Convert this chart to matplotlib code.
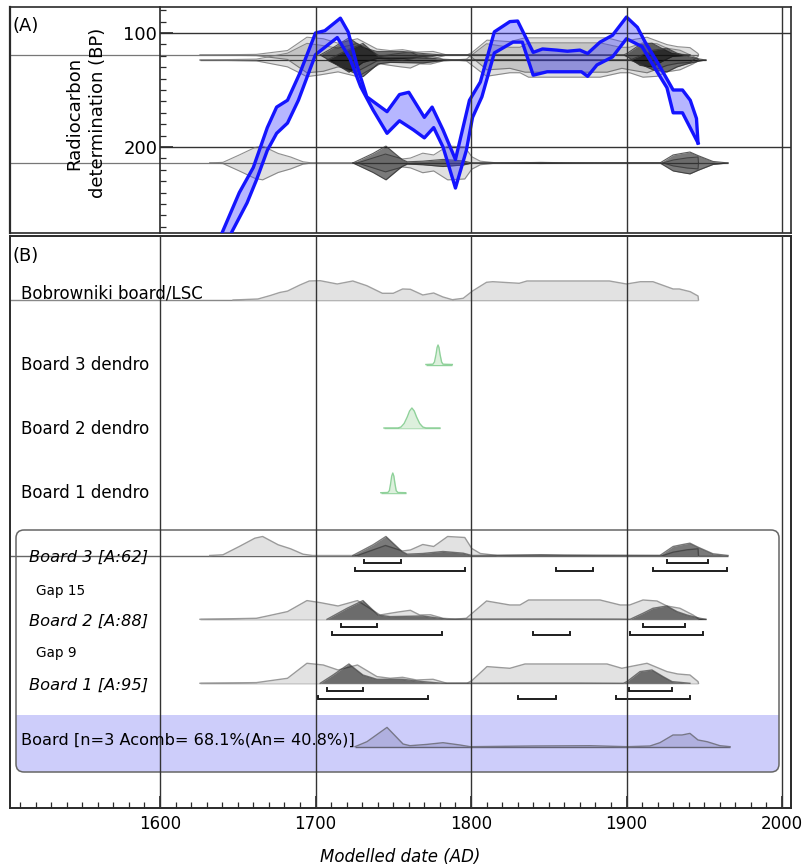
import numpy as np
import matplotlib
matplotlib.use("Agg")
import matplotlib.pyplot as plt
from matplotlib.patches import FancyBboxPatch, Rectangle
from matplotlib.transforms import Affine2D
from matplotlib.ticker import FixedLocator

# ------------------------------------------------------------------ data
# calibration curve band (upper = younger edge, lower = older edge), BP
cal_upper_year = [1637, 1640, 1651, 1660, 1669, 1675, 1682, 1690, 1700, 1706, 1716, 1721,
                  1727, 1733, 1746, 1754, 1760, 1770, 1775, 1782, 1790, 1799, 1806, 1815,
                  1825, 1830, 1840, 1846, 1855, 1862, 1870, 1875, 1883, 1891, 1900, 1907,
                  1912, 1920, 1930, 1936, 1941, 1945, 1946]
cal_upper_bp = [285, 275, 240, 218, 183, 165, 159, 135, 100, 98, 87, 99,
                130, 156, 169, 154, 152, 174, 165, 185, 211, 159, 143, 99,
                90, 89.5, 117, 114, 115, 116, 115, 118, 108, 102, 86, 95,
                108, 126, 150, 150, 159, 175, 196.5]
cal_lower_year = [1643, 1646, 1656, 1662, 1669, 1675, 1682, 1689, 1700, 1714, 1722, 1729,
                  1737, 1746, 1754, 1763, 1770, 1776, 1782, 1790, 1797, 1801, 1807, 1815,
                  1827, 1833, 1840, 1849, 1862, 1871, 1875, 1881, 1891, 1900, 1910, 1917,
                  1926, 1930, 1936, 1946]
cal_lower_bp = [285, 275, 249, 229, 203, 188, 179, 159, 119, 104, 122, 147,
                167.5, 188, 177, 185, 192, 183, 200, 236, 203, 174, 156, 117.5,
                108, 108, 137, 134, 134, 134, 138, 128, 121, 105, 112, 128,
                148, 170, 170, 196.5]

# radiocarbon determinations (BP) of the boards
board1_bp, board2_bp, board3_bp = 119.3, 123.7, 214.0

# relative probability distributions (arbitrary units)
lsc_year = [1647, 1663, 1671, 1677, 1682, 1690, 1696, 1703, 1714, 1724, 1733, 1743, 1750,
            1756, 1761, 1769, 1776, 1782, 1788, 1795, 1801, 1810, 1814, 1831, 1836, 1857,
            1889, 1900, 1909, 1917, 1930, 1934, 1941, 1946, 1946.3]
lsc_prob = [0, 1, 4.5, 7.5, 9, 15, 19, 19.3, 16, 19, 14.3, 6.7, 6.7,
            11, 10.7, 5, 7, 3, 0.3, 1.7, 9, 17.7, 18.3, 16.7, 19, 19,
            19, 16, 18.3, 18.3, 11, 11, 8.3, 4, 0]

d3_year = [1771, 1775.5, 1776.5, 1777.5, 1778.2, 1778.8, 1779.4, 1780.1, 1781.1, 1782, 1788]
d3_prob = [0, 0.3, 2.5, 10, 17, 19.5, 17, 10, 2.5, 0.3, 0]
d2_year = [1744, 1753, 1755, 1757, 1759, 1760.5, 1762, 1763.5, 1765, 1767, 1769, 1771, 1780]
d2_prob = [0, 0, 1, 4.5, 11, 17, 20, 17, 11, 4.5, 1, 0, 0]
d1_year = [1742, 1746.5, 1747.5, 1748.3, 1749, 1749.7, 1750.4, 1751.1, 1751.9, 1753, 1758]
d1_prob = [0, 0.2, 2, 9, 16.5, 19.7, 16.5, 9, 2, 0.2, 0]

b3_un_year = [1632, 1640.5, 1651, 1661, 1666, 1676, 1684, 1692, 1698, 1727, 1745, 1756,
              1761, 1769, 1776, 1785, 1796, 1800.5, 1806, 1817, 1830, 1845, 1860, 1923.5,
              1930, 1939, 1946, 1946.3]
b3_un_prob = [0, 0.7, 9, 17.3, 19, 10.7, 6.7, 1.3, 0, 0, 10, 4.5,
              5.5, 11, 9, 19, 18, 7, 2, 0, 0.3, 0.5, 0.2, 0,
              3.3, 5.7, 6.7, 0]
b3_mod_year = [1724, 1737, 1745.3, 1755.6, 1759, 1769, 1782, 1795, 1800.6, 1830, 1845, 1860,
               1880, 1921.5, 1930, 1936.3, 1940.8, 1946, 1955.6, 1965.3]
b3_mod_prob = [0, 10.7, 19, 4, 1.3, 2, 4, 2.3, 0, 0.3, 0.6, 0.3,
               0.1, 0, 9, 11, 12.3, 8.3, 1.7, 0]

b2_un_year = [1625.7, 1662, 1669, 1682, 1694.5, 1703, 1714.5, 1727, 1741.5, 1748, 1754, 1761,
              1767, 1774, 1782, 1790, 1797, 1810, 1825, 1831.5, 1837, 1883, 1896, 1902,
              1910.6, 1919.6, 1926, 1934.4, 1942.8, 1946, 1946.3]
b2_un_prob = [0, 1, 3.3, 7.7, 18.7, 16.7, 13.3, 18.7, 4.3, 6, 7.5, 9,
              4.3, 4.5, 1, 0.2, 1, 18.3, 14.3, 14.3, 19.3, 19.3, 14.3, 14.3,
              19.3, 18.3, 13.3, 11, 4.3, 1, 0]
b2_mod_year = [1707.4, 1720.3, 1730.5, 1740.2, 1748, 1769, 1780, 1784.6, 1800, 1850, 1895,
               1902.3, 1910.6, 1917, 1926, 1932.5, 1938.9, 1947.3, 1951.1]
b2_mod_prob = [0, 11, 18.7, 4.3, 2.7, 3.3, 1, 0, 0.2, 0.3, 0.2,
               0, 6, 11, 13.3, 7.7, 4.3, 1, 0]

b1_un_year = [1625.7, 1662, 1682, 1694.5, 1705, 1714.5, 1727, 1739.5, 1748, 1756, 1765,
              1775.6, 1784.6, 1797.4, 1800.6, 1810.3, 1825, 1834.7, 1887.5, 1897, 1902.3,
              1913.2, 1926, 1933, 1940.8, 1946, 1946.3]
b1_un_prob = [0, 0.7, 5, 20, 18.3, 13.3, 18.3, 6.7, 5, 6, 3.3,
              4, 0, 0, 2.7, 16.7, 15, 19.3, 19.3, 15, 16.7,
              20, 11.7, 9.3, 8.3, 1.7, 0]
b1_mod_year = [1703, 1711.3, 1721.5, 1730.5, 1739.5, 1756, 1769, 1782, 1830, 1870, 1898,
               1900.3, 1908.7, 1916.4, 1923.5, 1929.3, 1940.8]
b1_mod_prob = [0, 8.3, 19.3, 8.3, 4, 4, 1.7, 0, 0.2, 0.2, 0,
               1.7, 11.7, 13.3, 6.7, 1.7, 0]

comb_year = [1725.4, 1733.1, 1746, 1756.3, 1760.8, 1771.7, 1782, 1792.9, 1799.4, 1839.9,
             1876.5, 1900.3, 1915.1, 1921.5, 1929.9, 1935.7, 1940.8, 1946, 1951.8, 1960.1,
             1966.6]
comb_prob = [0, 5, 19.3, 2.7, 1, 2.3, 4, 1.7, 0, 0.7,
             1, 0, 0.7, 4, 11.7, 11.7, 13.3, 6.7, 5, 1,
             0]

# highest posterior density ranges (68.2 % and 95.4 %)
b3_r68 = [(1731, 1755), (1926, 1952.4)]
b3_r95 = [(1725.4, 1796), (1854.7, 1878.5), (1917, 1964.6)]
b2_r68 = [(1716.4, 1739.5), (1910.6, 1937.6)]
b2_r95 = [(1710.6, 1781.4), (1839.9, 1863.7), (1902.3, 1949.2)]
b1_r68 = [(1707.4, 1730.5), (1901.6, 1929.3)]
b1_r95 = [(1701.6, 1772.3), (1830.2, 1854.7), (1893.2, 1940.8)]

x_major = [1600, 1700, 1800, 1900, 2000]
x_minor = list(range(1510, 2001, 10))
bp_major = [100, 200]
bp_minor = list(range(80, 271, 10))

labels_B = ["Bobrowniki board/LSC", "Board 3 dendro", "Board 2 dendro", "Board 1 dendro"]
labels_board = ["Board 3 [A:62]", "Board 2 [A:88]", "Board 1 [A:95]"]
gap_labels = ["Gap 15", "Gap 9"]
comb_label = "Board [n=3 Acomb= 68.1%(An= 40.8%)]"

# ------------------------------------------------------------------ layout
plt.rcParams['font.family'] = ['DejaVu Sans']
W, H = 804, 865
fig = plt.figure(figsize=(W / 100, H / 100), dpi=100)
PX = Affine2D().scale(1.0 / W, -1.0 / H).translate(0, 1) + fig.transFigure


def px2yr(p):
    return 1600 + (p - 160) / 1.555


def py2bp(p):
    return 100 + (p - 33) / 1.14


XL = (px2yr(10), px2yr(791))
FRAME = '#2a2a2a'
GRID = '#333333'
LIGHT_FC = (0, 0, 0, 0.12)
LIGHT_EC = (0.45, 0.45, 0.45, 0.8)
DARK_FC = (0, 0, 0, 0.52)
DARK_EC = (0.2, 0.2, 0.2, 0.8)

# ---------------------------------------------------------------- panel A
axA = fig.add_axes([10 / W, 1 - 233 / H, 781 / W, 226 / H])
axA.set_xlim(*XL)
axA.set_ylim(py2bp(233), py2bp(7))
axA.spines['left'].set_position(('data', 1600))
for s in axA.spines.values():
    s.set_color(FRAME)
    s.set_linewidth(1.2)
axA.plot([0, 0], [0, 1], transform=axA.transAxes, color=FRAME, lw=1.6, clip_on=False)
axA.set_xticks([])
axA.yaxis.set_major_locator(FixedLocator(bp_major))
axA.yaxis.set_minor_locator(FixedLocator(bp_minor))
axA.tick_params(axis='y', which='major', direction='in', length=9, width=1.2,
                labelsize=13, pad=2, color=FRAME)
axA.tick_params(axis='y', which='minor', direction='in', length=4.5, width=0.9, color=FRAME)
axA.hlines(bp_major, 1600, XL[1], color=GRID, lw=1, zorder=1)

# baselines of the determinations
axA.hlines(board1_bp, XL[0], b1_un_year[-1], color='#777777', lw=0.9, zorder=1)
axA.hlines(board2_bp, b2_un_year[0], b2_mod_year[-1], color='#444444', lw=0.9, zorder=1)
axA.hlines(board3_bp, XL[0], b3_mod_year[-1], color='#777777', lw=0.9, zorder=1)

KA = 0.78  # BP units per probability unit (half height)


def mirror(yrs, prob, bp, fc, ec, z):
    yrs = np.asarray(yrs, float)
    p = np.asarray(prob, float) * KA
    axA.fill_between(yrs, bp - p, bp + p, color=fc, lw=0, zorder=z)
    axA.plot(yrs, bp - p, color=ec, lw=0.8, zorder=z)
    axA.plot(yrs, bp + p, color=ec, lw=0.8, zorder=z)


for yrs, pr, bp in [(b1_un_year, b1_un_prob, board1_bp), (b2_un_year, b2_un_prob, board2_bp),
                    (b3_un_year, b3_un_prob, board3_bp)]:
    mirror(yrs, pr, bp, LIGHT_FC, LIGHT_EC, 2)
for yrs, pr, bp in [(b1_mod_year, b1_mod_prob, board1_bp), (b2_mod_year, b2_mod_prob, board2_bp),
                    (b3_mod_year, b3_mod_prob, board3_bp)]:
    mirror(yrs, pr, bp, DARK_FC, DARK_EC, 2.5)

# calibration curve
poly_x = np.concatenate([cal_upper_year, cal_lower_year[::-1]])
poly_y = np.concatenate([cal_upper_bp, cal_lower_bp[::-1]])
axA.fill(poly_x, poly_y, color=(0.25, 0.25, 1.0, 0.38), lw=0, zorder=4)
axA.plot(cal_upper_year, cal_upper_bp, color='#1414ff', lw=2.4, zorder=5)
axA.plot(cal_lower_year, cal_lower_bp, color='#1414ff', lw=2.4, zorder=5)

for yr in x_major[1:]:
    axA.axvline(yr, color=GRID, lw=1, zorder=6)

# ---------------------------------------------------------------- panel B
axB = fig.add_axes([10 / W, 1 - 808 / H, 781 / W, (808 - 236) / H])
axB.set_xlim(*XL)
axB.set_ylim(808, 236)
axB.set_yticks([])
for s in axB.spines.values():
    s.set_color(FRAME)
    s.set_linewidth(1.4)
axB.xaxis.set_major_locator(FixedLocator(x_major))
axB.xaxis.set_minor_locator(FixedLocator([v for v in x_minor if v not in x_major]))
axB.tick_params(axis='x', which='major', direction='in', length=9, width=1.2,
                labelsize=12, pad=5, color=FRAME)
axB.tick_params(axis='x', which='minor', direction='in', length=4, width=0.9, color=FRAME)
for yr in x_major:
    axB.axvline(yr, color=GRID, lw=1, zorder=8)

# grouping box and combine band
box = FancyBboxPatch((16, 530), 763, 242, boxstyle="round,pad=0,rounding_size=8",
                     transform=PX, fc='none', ec='#666666', lw=1.1, zorder=0.6)
blue1 = FancyBboxPatch((16, 715), 763, 57, boxstyle="round,pad=0,rounding_size=8",
                       transform=PX, fc='#cdcdfa', ec='none', zorder=0.5)
blue2 = Rectangle((16, 715), 763, 20, transform=PX, fc='#cdcdfa', ec='none', zorder=0.5)
for p in (blue1, blue2, box):
    axB.add_patch(p)

ROW = {'lsc': 300, 'd3': 364.5, 'd2': 428, 'd1': 492.7,
       'b3': 555.5, 'b2': 619.3, 'b1': 683.3, 'comb': 746.7}


def dist(yrs, prob, base, fc, ec, z, lw=1.0):
    yrs = np.asarray(yrs, float)
    top = base - np.asarray(prob, float)
    axB.fill_between(yrs, base, top, color=fc, lw=0, zorder=z)
    axB.plot(yrs, top, color=ec, lw=lw, zorder=z + 0.1)


# baselines
axB.hlines(ROW['lsc'], XL[0], lsc_year[-1], color='#888888', lw=1, zorder=1)
axB.hlines(ROW['b3'], XL[0], b3_mod_year[-1], color='#666666', lw=1, zorder=1)
axB.hlines(ROW['b2'], b2_un_year[0], b2_mod_year[-1], color='#666666', lw=1, zorder=1)
axB.hlines(ROW['b1'], b1_un_year[0], b1_un_year[-1], color='#666666', lw=1, zorder=1)
axB.hlines(ROW['comb'], comb_year[0], comb_year[-1], color='#666677', lw=1, zorder=1)
for yrs, key in [(d3_year, 'd3'), (d2_year, 'd2'), (d1_year, 'd1')]:
    axB.hlines(ROW[key], yrs[0], yrs[-1], color='#8fd19a', lw=1, zorder=1)

dist(lsc_year, lsc_prob, ROW['lsc'], '#e2e2e2', '#a0a0a0', 2)
for yrs, pr, key in [(d3_year, d3_prob, 'd3'), (d2_year, d2_prob, 'd2'), (d1_year, d1_prob, 'd1')]:
    dist(yrs, pr, ROW[key], '#ddf0dd', '#8fd19a', 2)
for yrs, pr, key in [(b3_un_year, b3_un_prob, 'b3'), (b2_un_year, b2_un_prob, 'b2'),
                     (b1_un_year, b1_un_prob, 'b1')]:
    dist(yrs, pr, ROW[key], '#e2e2e2', '#9a9a9a', 2)
for yrs, pr, key in [(b3_mod_year, b3_mod_prob, 'b3'), (b2_mod_year, b2_mod_prob, 'b2'),
                     (b1_mod_year, b1_mod_prob, 'b1')]:
    dist(yrs, pr, ROW[key], DARK_FC, (0.25, 0.25, 0.25, 0.7), 3)
dist(comb_year, comb_prob, ROW['comb'], (0.25, 0.25, 0.45, 0.2), '#777788', 3)

# ranges
for r68, r95, key in [(b3_r68, b3_r95, 'b3'), (b2_r68, b2_r95, 'b2'), (b1_r68, b1_r95, 'b1')]:
    for rng, off in [(r68, 7.5), (r95, 15.3)]:
        y = ROW[key] + off
        for a, b in rng:
            axB.plot([a, a, b, b], [y - 3, y, y, y - 3], color='#1e1e1e', lw=1.4,
                     solid_joinstyle='miter', zorder=4)

# ------------------------------------------------------------------ texts
fig.text(13 / W, 1 - 31 / H, "(A)", fontsize=13, ha='left', va='baseline')
fig.text(13 / W, 1 - 261 / H, "(B)", fontsize=13, ha='left', va='baseline')
fig.text(86 / W, 1 - 113 / H, "Radiocarbon\ndetermination (BP)", fontsize=13, rotation=90,
         ha='center', va='center', multialignment='center', linespacing=1.45)

for lab, yb in zip(labels_B, [298, 370, 434, 498]):
    fig.text(21 / W, 1 - yb / H, lab, fontsize=12, ha='left', va='baseline', zorder=9)
for lab, yb in zip(labels_board, [562, 626, 689.5]):
    fig.text(29 / W, 1 - yb / H, lab, fontsize=11.7, style='italic', ha='left',
             va='baseline', zorder=9)
for lab, yb in zip(gap_labels, [594.5, 657.5]):
    fig.text(36 / W, 1 - yb / H, lab, fontsize=9.8, ha='left', va='baseline', zorder=9)
fig.text(21 / W, 1 - 744.5 / H, comb_label, fontsize=11.6, ha='left', va='baseline', zorder=9)

fig.text(400 / W, 1 - 857 / H, "Modelled date (AD)", fontsize=12, style='italic',
         ha='center', va='center')

fig.savefig("out.png", dpi=100)
